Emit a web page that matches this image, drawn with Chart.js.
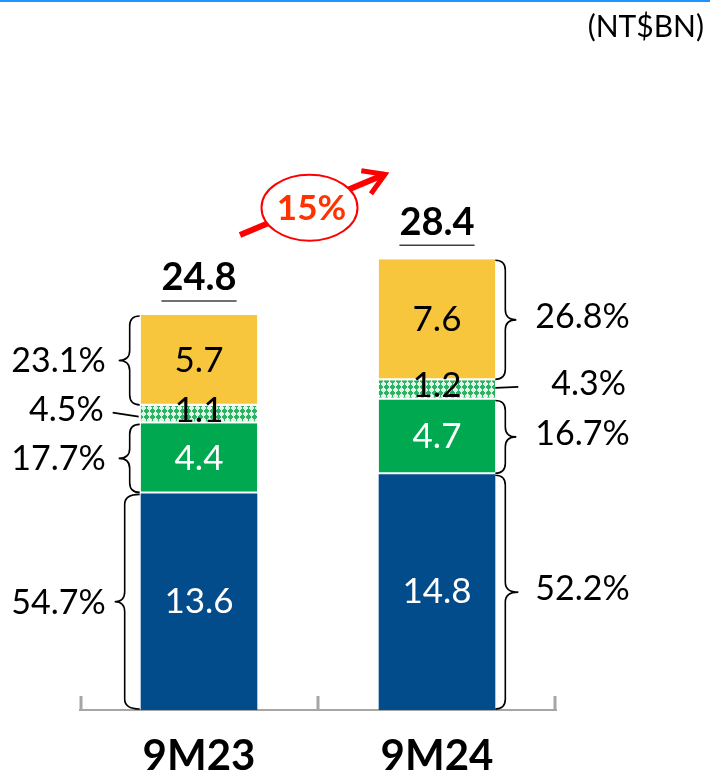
<!DOCTYPE html>
<html>
<head>
<meta charset="utf-8">
<script src="https://cdn.jsdelivr.net/npm/chart.js@4.4.0/dist/chart.umd.min.js"></script>
<style>
  html, body { margin: 0; padding: 0; background: #fff; }
  #box { width: 710px; height: 775px; }
</style>
</head>
<body>
<div id="box"><canvas id="mixChart" width="710" height="775"></canvas></div>
<script>
// values per period (NT$BN), stacked bottom to top
const categories = ['9M23', '9M24'];
const blueValues = [13.6, 14.8];
const greenValues = [4.4, 4.7];
const hatchValues = [1.1, 1.2];
const yellowValues = [5.7, 7.6];
const totals = [24.8, 28.4];

// share of total for each segment
const blueShares = ['54.7%', '52.2%'];
const greenShares = ['17.7%', '16.7%'];
const hatchShares = ['4.5%', '4.3%'];
const yellowShares = ['23.1%', '26.8%'];

const growthLabel = '15%';
const unitLabel = '(NT$BN)';

const FONT = 'Lato, "Open Sans", sans-serif';

// green crosses on a pale lattice for the thin segment
function makeHatch() {
  const c = document.createElement('canvas');
  c.width = 6; c.height = 6;
  const g = c.getContext('2d');
  g.fillStyle = '#dff3e6';
  g.fillRect(0, 0, 6, 6);
  g.fillStyle = '#2bb364';
  g.fillRect(0, 2, 5, 2);
  g.fillRect(1, 1, 3, 4);
  g.fillRect(2, 0, 1, 6);
  return g.createPattern(c, 'repeat');
}

function drawBrace(ctx, x, y1, y2, dir, d1, d2) {
  const ym = (y1 + y2) / 2;
  const r = Math.min(10, (y2 - y1) / 4);
  ctx.beginPath();
  ctx.moveTo(x, y1);
  ctx.quadraticCurveTo(x + dir * d1, y1, x + dir * d1, y1 + r);
  ctx.lineTo(x + dir * d1, ym - r);
  ctx.quadraticCurveTo(x + dir * d1, ym, x + dir * d2, ym);
  ctx.quadraticCurveTo(x + dir * d1, ym, x + dir * d1, ym + r);
  ctx.lineTo(x + dir * d1, y2 - r);
  ctx.quadraticCurveTo(x + dir * d1, y2, x, y2);
  ctx.stroke();
}

const shares = [blueShares, greenShares, hatchShares, yellowShares];
const labelColors = ['#ffffff', '#ffffff', '#000000', '#000000'];
// the thin segment's value sits a little above its middle
const labelShift = [0, 0, -4, 0];

const annotate = {
  id: 'annotate',
  afterDraw(chart) {
    const ctx = chart.ctx;
    const xs = chart.scales.x;
    ctx.save();

    // thin blue rule along the top edge
    ctx.fillStyle = '#1e96ff';
    ctx.fillRect(0, 0, chart.width, 2);

    // unit
    ctx.fillStyle = '#000';
    ctx.font = '30px ' + FONT;
    ctx.textAlign = 'right';
    ctx.textBaseline = 'middle';
    ctx.fillText(unitLabel, 704, 27);

    // tick marks pointing up from the axis
    ctx.strokeStyle = '#a6a6a6';
    ctx.lineWidth = 3;
    const mid = (xs.getPixelForTick(0) + xs.getPixelForTick(1)) / 2;
    [xs.left + 1, mid, xs.right - 1].forEach(px => {
      ctx.beginPath();
      ctx.moveTo(px, xs.top);
      ctx.lineTo(px, xs.top - 14);
      ctx.stroke();
    });

    // values inside segments, braces and shares beside them
    chart.data.datasets.forEach((ds, di) => {
      const meta = chart.getDatasetMeta(di);
      meta.data.forEach((bar, i) => {
        const yc = (bar.y + bar.base) / 2;
        const left = bar.x - bar.width / 2;
        const right = bar.x + bar.width / 2;

        ctx.fillStyle = labelColors[di];
        ctx.font = '35px ' + FONT;
        ctx.textAlign = 'center';
        ctx.textBaseline = 'middle';
        ctx.fillText(ds.data[i].toFixed(1), bar.x, yc + labelShift[di]);

        ctx.strokeStyle = '#000';
        ctx.lineWidth = 1.6;
        ctx.fillStyle = '#000';
        ctx.font = '34px ' + FONT;
        const txt = shares[di][i];
        if (di === 2) {
          // thin segment: leader line instead of a brace
          ctx.beginPath();
          if (i === 0) {
            ctx.moveTo(left - 28, yc - 2);
            ctx.lineTo(left - 2, yc + 2);
            ctx.stroke();
            ctx.textAlign = 'right';
            ctx.fillText(txt, left - 37, yc - 5);
          } else {
            ctx.moveTo(right, yc - 2);
            ctx.lineTo(right + 23, yc - 3);
            ctx.stroke();
            ctx.textAlign = 'left';
            ctx.fillText(txt, right + 56, yc - 6);
          }
          return;
        }
        const big = di === 0;
        if (i === 0) {
          drawBrace(ctx, left - 1, bar.y + 1, bar.base - 1, -1, big ? 15 : 10, big ? 25 : 21);
          ctx.textAlign = 'right';
          ctx.fillText(txt, left - 35, yc + 1);
        } else {
          drawBrace(ctx, right, bar.y + 1, bar.base - 1, 1, 10, big ? 23 : 21);
          ctx.textAlign = 'left';
          ctx.fillText(txt, right + 40, yc - 3);
        }
      });
    });

    // totals above the stacks, underlined
    const topMeta = chart.getDatasetMeta(chart.data.datasets.length - 1);
    const tops = [];
    topMeta.data.forEach((bar, i) => {
      tops.push({ x: bar.x, y: bar.y });
      const label = totals[i].toFixed(1);
      ctx.font = 'bold 38px ' + FONT;
      ctx.fillStyle = '#000';
      ctx.textAlign = 'center';
      ctx.textBaseline = 'middle';
      ctx.fillText(label, bar.x, bar.y - 37);
      const w = ctx.measureText(label).width;
      ctx.strokeStyle = '#404040';
      ctx.lineWidth = 1.5;
      ctx.beginPath();
      ctx.moveTo(bar.x - w / 2, bar.y - 14);
      ctx.lineTo(bar.x + w / 2, bar.y - 14);
      ctx.stroke();
    });

    // growth arrow with the ellipse label
    const sx = tops[0].x + 41, sy = tops[0].y - 80;
    const ex = tops[1].x - 52, ey = tops[1].y - 85;
    ctx.strokeStyle = '#ff0000';
    ctx.lineWidth = 6;
    ctx.lineCap = 'butt';
    ctx.beginPath();
    ctx.moveTo(sx, sy);
    ctx.lineTo(ex, ey);
    ctx.stroke();
    const ang = Math.atan2(ey - sy, ex - sx) + Math.PI;
    ctx.lineWidth = 5;
    ctx.beginPath();
    ctx.moveTo(ex + 24 * Math.cos(ang - 0.55), ey + 24 * Math.sin(ang - 0.55));
    ctx.lineTo(ex, ey);
    ctx.lineTo(ex + 24 * Math.cos(ang + 0.55), ey + 24 * Math.sin(ang + 0.55));
    ctx.stroke();

    const cx = (sx + ex) / 2 - 3, cy = (sy + ey) / 2 + 3;
    ctx.beginPath();
    ctx.ellipse(cx, cy, 48, 33, 0, 0, Math.PI * 2);
    ctx.fillStyle = '#fff';
    ctx.fill();
    ctx.lineWidth = 2;
    ctx.stroke();
    ctx.fillStyle = '#ff3300';
    ctx.font = 'bold 35px ' + FONT;
    ctx.textAlign = 'center';
    ctx.fillText(growthLabel, cx + 2, cy + 1);

    ctx.restore();
  }
};

const segBorder = { top: 0, left: 0, right: 0, bottom: 2 };

new Chart(document.getElementById('mixChart'), {
  type: 'bar',
  data: {
    labels: categories,
    datasets: [
      { data: blueValues, backgroundColor: '#024c8c', borderWidth: 0 },
      { data: greenValues, backgroundColor: '#00a84f', borderColor: '#fff', borderWidth: segBorder, borderSkipped: false },
      { data: hatchValues, backgroundColor: makeHatch(), borderColor: '#fff', borderWidth: segBorder, borderSkipped: false },
      { data: yellowValues, backgroundColor: '#f8c63c', borderColor: '#fff', borderWidth: segBorder, borderSkipped: false }
    ]
  },
  options: {
    responsive: false,
    animation: false,
    layout: { padding: { left: 80, right: 154, top: 73, bottom: 0 } },
    datasets: { bar: { categoryPercentage: 1, barPercentage: 0.49 } },
    plugins: { legend: { display: false }, tooltip: { enabled: false } },
    scales: {
      x: {
        stacked: true,
        grid: { display: false, drawTicks: false },
        border: { display: true, color: '#a6a6a6', width: 2 },
        ticks: { color: '#000', font: { family: FONT, size: 42, weight: 'bold' }, padding: 21 },
        afterFit(scale) { scale.height = 65; }
      },
      y: { stacked: true, display: false, min: 0, max: 40 }
    }
  },
  plugins: [annotate]
});
</script>
</body>
</html>
